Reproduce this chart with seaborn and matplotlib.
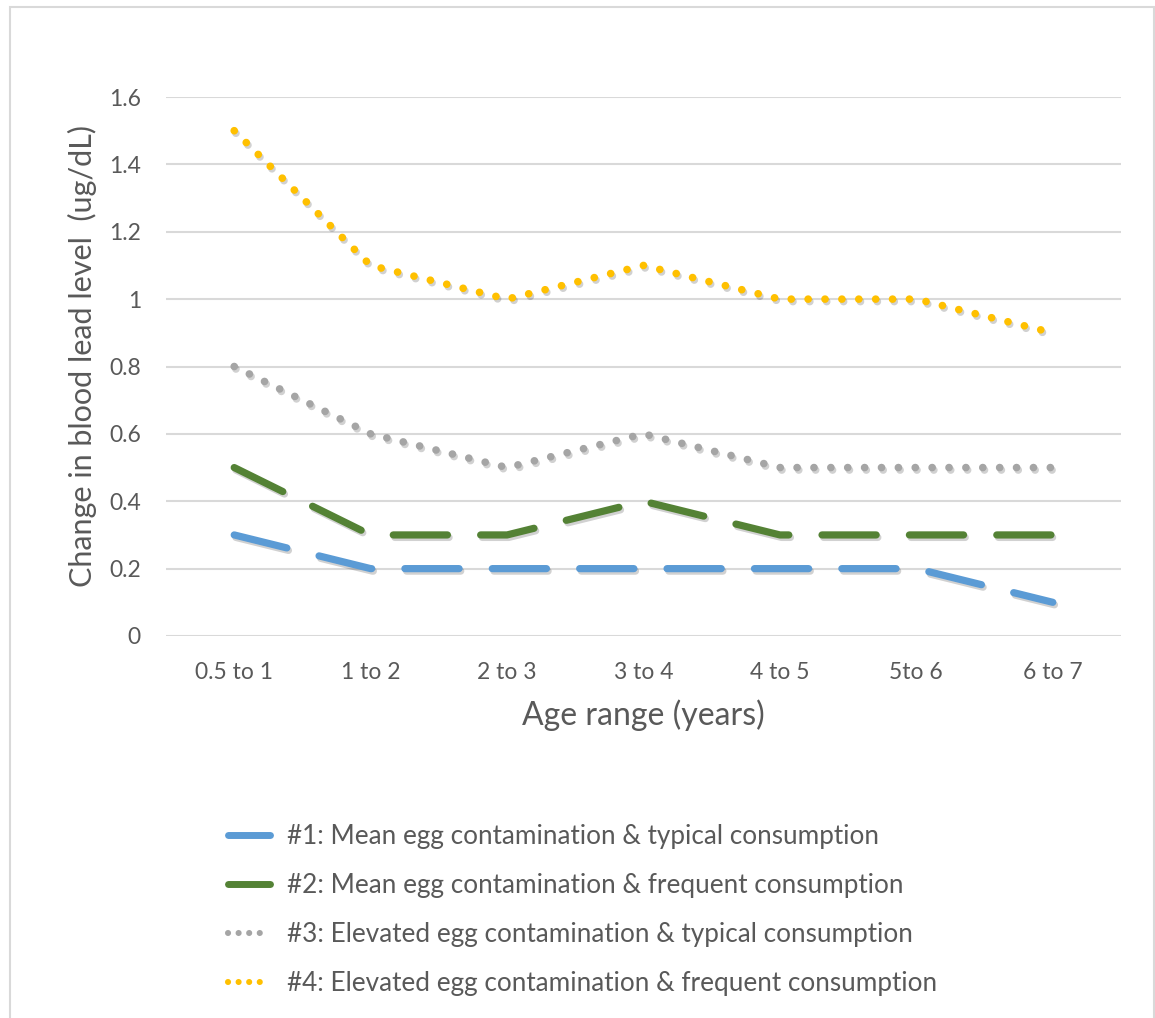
import matplotlib
matplotlib.use("Agg")
import matplotlib.pyplot as plt
import matplotlib.patheffects as pe
from matplotlib.lines import Line2D
import seaborn as sns
import pandas as pd

# ---- data ----
age_ranges = ["0.5 to 1", "1 to 2", "2 to 3", "3 to 4", "4 to 5", "5to 6", "6 to 7"]
s1_mean_typical = [0.3, 0.2, 0.2, 0.2, 0.2, 0.2, 0.1]
s2_mean_frequent = [0.5, 0.3, 0.3, 0.4, 0.3, 0.3, 0.3]
s3_elev_typical = [0.8, 0.6, 0.5, 0.6, 0.5, 0.5, 0.5]
s4_elev_frequent = [1.5, 1.1, 1.0, 1.1, 1.0, 1.0, 0.9]
series_labels = [
    "#1: Mean egg contamination & typical consumption",
    "#2: Mean egg contamination & frequent consumption",
    "#3: Elevated egg contamination & typical consumption",
    "#4: Elevated egg contamination & frequent consumption",
]
y_ticks = [0, 0.2, 0.4, 0.6, 0.8, 1, 1.2, 1.4, 1.6]
y_tick_labels = ["0", "0.2", "0.4", "0.6", "0.8", "1", "1.2", "1.4", "1.6"]

sns.set_theme(style="white")
plt.rcParams["font.family"] = ["Lato", "DejaVu Sans"]

TXT = "#595959"
colors = ["#5B9BD5", "#548235", "#A5A5A5", "#FFC000"]
DASH = (0, (7.5, 4.6))
DOT = (0, (0.01, 2.2))
styles = [DASH, DASH, DOT, DOT]
widths = [5.2, 5.2, 5.5, 5.5]

fig = plt.figure(figsize=(11.55, 10.18), dpi=100)
# chart border
fig.patches.append(plt.Rectangle((10 / 1155, -0.01), 1144 / 1155, 1.0 - 7 / 1018 + 0.01,
                                 transform=fig.transFigure, fill=False,
                                 edgecolor="#D9D9D9", linewidth=1.5))
ax = fig.add_axes([166 / 1155, 1 - 636 / 1018, 955 / 1155, 539 / 1018])

df = pd.DataFrame({"age": age_ranges * 4,
                   "value": s1_mean_typical + s2_mean_frequent + s3_elev_typical + s4_elev_frequent,
                   "series": sum([[lab] * len(age_ranges) for lab in series_labels], [])})

shadow = [pe.SimpleLineShadow(offset=(1.2, -1.8), shadow_color="black", alpha=0.18),
          pe.Normal()]
for lab, c, ls, lw in zip(series_labels, colors, styles, widths):
    sub = df[df["series"] == lab]
    sns.lineplot(data=sub, x="age", y="value", color=c, linestyle=ls, linewidth=lw,
                 dash_capstyle="round", solid_capstyle="round", solid_joinstyle="round",
                 sort=False, ax=ax, legend=False, path_effects=shadow)

ax.set_xlim(-0.5, len(age_ranges) - 0.5)
ax.set_ylim(0, 1.6)
ax.set_yticks(y_ticks)
ax.set_yticklabels(y_tick_labels)
ax.grid(axis="y", color="#D9D9D9", linewidth=1.5)
ax.grid(axis="x", visible=False)
ax.set_axisbelow(True)
for sp in ax.spines.values():
    sp.set_visible(False)
ax.tick_params(axis="both", length=0, labelsize=16.5, colors=TXT)
ax.tick_params(axis="y", pad=18)
ax.tick_params(axis="x", pad=19)
ax.set_xlabel("Age range (years)", fontsize=23, color=TXT)
ax.set_ylabel("Change in blood lead level  (ug/dL)", fontsize=22, color=TXT)
ax.xaxis.set_label_coords(0.5, -0.118)
ax.yaxis.set_label_coords(-0.072, 0.52)

handles = []
for c, ls, lw in zip(colors, styles, widths):
    if ls == DOT:
        handles.append(Line2D([], [], color=c, linewidth=4.4, linestyle=(0, (0.01, 1.72)),
                              dash_capstyle="round"))
    else:
        handles.append(Line2D([], [], color=c, linewidth=5.0, solid_capstyle="round"))
leg = fig.legend(handles, series_labels, loc="upper left",
                 bbox_to_anchor=(228 / 1155, 1 - 824 / 1018), frameon=False,
                 fontsize=18.8, handlelength=1.62, handletextpad=0.65, labelspacing=0.92,
                 borderpad=0, borderaxespad=0)
for t in leg.get_texts():
    t.set_color(TXT)

fig.savefig("out.png", dpi=100, facecolor="white")
